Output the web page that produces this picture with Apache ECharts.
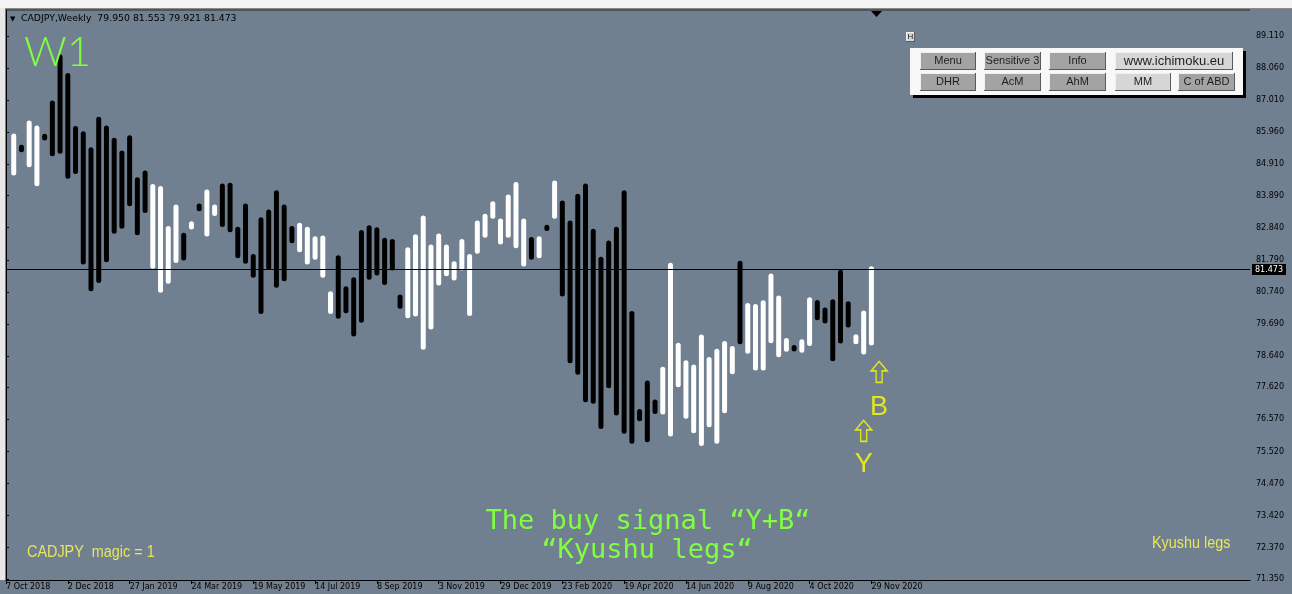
<!DOCTYPE html>
<html>
<head>
<meta charset="utf-8">
<title>CADJPY Weekly - Kyushu legs</title>
<script src="https://cdn.jsdelivr.net/npm/echarts@6/dist/echarts.min.js"></script>
<style>
  html, body { margin: 0; padding: 0; background: #708090; }
  #chart { width: 1292px; height: 594px; }
</style>
</head>
<body>
<div id="chart"></div>
<script>
// time axis labels, one every 8 weeks (axis slot 0 = 7 Oct 2018)
const weekLabels = ['7 Oct 2018', '2 Dec 2018', '27 Jan 2019', '24 Mar 2019', '19 May 2019',
  '14 Jul 2019', '8 Sep 2019', '3 Nov 2019', '29 Dec 2019', '23 Feb 2020', '19 Apr 2020',
  '14 Jun 2020', '9 Aug 2020', '4 Oct 2020', '29 Nov 2020'];

// weekly bars, first one sits in slot 1 (14 Oct 2018), last one 29 Nov 2020
const highs = [85.84, 85.47, 86.26, 86.10, 85.83, 86.92, 88.42, 87.82, 86.08, 85.91,
  85.39, 86.39, 86.10, 85.70, 85.28, 85.78, 84.41, 84.63, 84.19, 84.12,
  82.81, 83.52, 82.59, 82.97, 83.55, 84.01, 83.52, 84.20, 84.23, 82.79,
  83.55, 81.90, 83.10, 83.35, 83.98, 83.52, 82.81, 82.92, 82.79, 82.48,
  82.50, 80.68, 81.86, 80.84, 81.14, 82.68, 82.84, 82.77, 82.43, 82.39,
  80.57, 82.12, 82.54, 83.16, 82.21, 82.57, 82.21, 81.66, 82.39, 81.90,
  82.99, 83.21, 83.62, 83.06, 83.84, 84.25, 83.06, 82.45, 82.48, 82.85,
  84.30, 83.65, 82.99, 83.87, 84.20, 82.72, 81.81, 82.34, 82.79, 83.98,
  80.03, 76.83, 77.76, 77.14, 78.21, 81.61, 78.99, 78.42, 78.28, 79.26,
  78.53, 78.80, 79.05, 78.89, 81.68, 80.29, 80.26, 80.38, 81.26, 80.54,
  79.15, 78.92, 79.11, 80.48, 80.39, 80.15, 80.42, 81.38, 80.35, 79.27,
  80.05, 81.50];
const lows = [84.63, 85.39, 84.90, 84.28, 85.77, 85.26, 85.34, 84.52, 84.68, 81.72,
  80.84, 81.11, 81.79, 82.72, 82.89, 83.62, 82.67, 83.40, 81.58, 80.79,
  81.09, 81.77, 81.85, 82.86, 83.46, 82.63, 83.30, 82.94, 82.77, 81.92,
  81.74, 81.28, 80.10, 81.54, 80.96, 81.17, 82.41, 82.12, 81.72, 81.87,
  81.28, 80.10, 79.94, 80.12, 79.36, 79.81, 81.22, 81.36, 81.05, 81.52,
  80.27, 79.96, 80.02, 78.93, 79.59, 81.03, 81.33, 81.19, 81.52, 80.03,
  82.07, 82.59, 83.21, 82.37, 82.59, 82.25, 81.65, 81.87, 81.92, 82.81,
  83.21, 80.67, 78.49, 78.11, 77.21, 77.16, 76.34, 77.67, 76.78, 76.18,
  75.85, 76.59, 75.90, 76.83, 76.81, 76.09, 77.70, 76.67, 76.20, 75.78,
  76.39, 75.85, 76.85, 78.13, 79.11, 78.80, 78.25, 78.25, 79.14, 78.68,
  78.86, 78.87, 78.83, 79.05, 79.89, 79.79, 78.55, 79.13, 79.66, 79.11,
  78.77, 79.07];
// 1 = up week (white), -1 = down week (black)
const dirs = [1, -1, 1, 1, -1, -1, -1, -1, -1, -1,
  -1, -1, -1, -1, -1, -1, -1, -1, 1, 1,
  1, 1, -1, 1, -1, 1, 1, -1, -1, -1,
  -1, -1, -1, -1, -1, -1, -1, 1, 1, 1,
  1, 1, -1, -1, -1, -1, -1, -1, -1, -1,
  -1, 1, 1, 1, 1, 1, 1, 1, 1, 1,
  1, 1, 1, 1, 1, 1, 1, -1, 1, -1,
  1, -1, -1, -1, -1, -1, -1, -1, -1, -1,
  -1, -1, -1, -1, 1, 1, 1, 1, 1, 1,
  1, 1, 1, 1, -1, 1, 1, 1, 1, 1,
  1, -1, 1, 1, -1, -1, -1, -1, -1, 1,
  1, 1];

const priceTicks = [71.35, 72.37, 73.42, 74.47, 75.52, 76.57, 77.62, 78.64, 79.69,
  80.74, 81.79, 82.84, 83.89, 84.91, 85.96, 87.01, 88.06, 89.11];
const lastPrice = 81.473;
const headerText = 'CADJPY,Weekly  79.950 81.553 79.921 81.473';

// Y / B signal arrows: slot, arrow level, letter level
const signalNames = ['Y', 'B'];
const signalSlots = [111, 113];
const signalArrowLevels = [76.19, 78.12];
const signalLetterLevels = [75.08, 76.94];

const chart = echarts.init(document.getElementById('chart'));

const barData = highs.map((h, i) => [i + 1, h, lows[i], dirs[i]]);
const labelSlots = weekLabels.map((_, i) => i * 8);

// MT4 style panel button
function button(x, y, w, h, text, light, size) {
  return {
    type: 'group', x: x, y: y,
    children: [
      {type: 'rect', z: 100, shape: {x: 0, y: 0, width: w, height: h}, style: {fill: '#5a5a5a'}},
      {type: 'rect', z: 101, shape: {x: 0, y: 0, width: w - 1, height: h - 1}, style: {fill: '#f0f0f0'}},
      {type: 'rect', z: 102, shape: {x: 1, y: 1, width: w - 2, height: h - 2}, style: {fill: light ? '#d6d6d6' : '#a3a3a3'}},
      {
        type: 'text', z: 103, x: w / 2, y: h / 2,
        style: {
          text: text, fill: '#1e1e1e', font: size + 'px "Liberation Sans"',
          align: 'center', verticalAlign: 'middle', textAlign: 'center', textVerticalAlign: 'middle'
        }
      }
    ]
  };
}

function note(x, y, text, color, font, scaleX, center) {
  return {
    type: 'text', x: x, y: y, z: 90, scaleX: scaleX || 1,
    style: {
      text: text, fill: color, font: font,
      align: center ? 'center' : 'left', textAlign: center ? 'center' : 'left',
      verticalAlign: 'middle', textVerticalAlign: 'middle'
    }
  };
}

const option = {
  backgroundColor: '#708090',
  animation: false,
  grid: {left: 6, right: 42, top: 10, bottom: 14},
  xAxis: {
    type: 'value', min: 0, max: 161, interval: 8,
    axisLine: {show: true, lineStyle: {color: '#000', width: 1}},
    axisTick: {show: true, customValues: labelSlots, length: 4, lineStyle: {color: '#000'}},
    axisLabel: {
      customValues: labelSlots, align: 'left', margin: 3, fontSize: 8,
      fontFamily: 'DejaVu Sans', color: '#000',
      formatter: v => weekLabels[Math.round(v / 8)] || ''
    },
    splitLine: {show: false}
  },
  yAxis: {
    type: 'value', position: 'right', min: 71.315, max: 89.96,
    axisLine: {show: true, lineStyle: {color: '#000', width: 1}},
    axisTick: {show: true, customValues: priceTicks, length: 3, lineStyle: {color: '#000'}},
    axisLabel: {
      customValues: priceTicks, margin: 6, fontSize: 8, fontFamily: 'DejaVu Sans', color: '#000',
      formatter: v => v.toFixed(3)
    },
    splitLine: {show: false}
  },
  series: [
    {
      type: 'custom',
      name: 'CADJPY',
      data: barData,
      clip: true,
      renderItem: (params, api) => {
        const top = api.coord([api.value(0), api.value(1)]);
        const bot = api.coord([api.value(0), api.value(2)]);
        return {
          type: 'line',
          shape: {x1: top[0], y1: top[1], x2: bot[0], y2: bot[1]},
          style: {stroke: api.value(3) > 0 ? '#ffffff' : '#000000', lineWidth: 5, lineCap: 'round'}
        };
      },
      markLine: {
        silent: true,
        symbol: 'none',
        lineStyle: {color: '#000', width: 1, type: 'solid'},
        label: {
          show: true, position: 'end', distance: 2,
          formatter: lastPrice.toFixed(3),
          backgroundColor: '#000', color: '#fff', padding: [2, 3, 1, 3],
          fontSize: 8, fontFamily: 'DejaVu Sans'
        },
        data: [{yAxis: lastPrice}]
      }
    },
    {
      type: 'scatter',
      name: 'arrows',
      data: signalSlots.map((s, i) => [s, signalArrowLevels[i]]),
      symbol: 'path://M8,0 L16,9 L11,9 L11,20 L5,20 L5,9 L0,9 Z',
      symbolSize: [16, 21],
      itemStyle: {color: 'rgba(0,0,0,0)', borderColor: '#ffff00', borderWidth: 1.5}
    },
    {
      type: 'scatter',
      name: 'letters',
      data: signalSlots.map((s, i) => [s, signalLetterLevels[i]]),
      symbolSize: 2,
      itemStyle: {color: 'rgba(0,0,0,0)'},
      label: {
        show: true, position: 'inside', color: '#ffff00', fontSize: 27,
        fontFamily: 'Liberation Sans',
        formatter: p => signalNames[p.dataIndex]
      }
    }
  ],
  graphic: [
    // window frame at the top
    {type: 'rect', shape: {x: 0, y: 0, width: 1292, height: 8}, style: {fill: '#f4f4f4'}, z: 90},
    {type: 'line', shape: {x1: 0, y1: 8.5, x2: 1292, y2: 8.5}, style: {stroke: '#8a8a8a', lineWidth: 1}, z: 90},
    {type: 'line', shape: {x1: 6, y1: 10, x2: 1250, y2: 10}, style: {stroke: '#2a2a2a', lineWidth: 1}, z: 90},
    {type: 'rect', shape: {x: 0, y: 8, width: 5, height: 572}, style: {fill: '#e8e8e8'}, z: 90},
    // chart shift marker
    {type: 'polygon', shape: {points: [[871, 11], [882, 11], [876.5, 17]]}, style: {fill: '#000'}, z: 90},
    // header
    note(10, 19, '\u25BC', '#000', '7px "DejaVu Sans"'),
    note(21, 19, headerText, '#000', '9.5px "DejaVu Sans"', 0.98),
    // timeframe
    note(24, 52, 'W1', '#80ff40', '300 42px Lato'),
    // comments
    note(648, 522, 'The buy signal \u201CY+B\u201C', '#80ff40', '27px "DejaVu Sans Mono"', 1, true),
    note(647, 551, '\u201CKyushu legs\u201C', '#80ff40', '27px "DejaVu Sans Mono"', 1, true),
    note(27, 553, 'CADJPY  magic = 1', '#e6e65a', '16px "Liberation Sans"', 0.9),
    note(1152, 544, 'Kyushu legs', '#e6e65a', '16px "Liberation Sans"', 0.9),
    // button panel
    {type: 'rect', shape: {x: 913, y: 51, width: 333, height: 47}, style: {fill: '#000'}, z: 95},
    {type: 'rect', shape: {x: 910, y: 48, width: 333, height: 47}, style: {fill: '#f8f8f8'}, z: 96},
    button(906, 32, 9, 10, 'H', true, 8),
    button(920, 52, 56, 18, 'Menu', false, 11),
    button(984, 52, 57, 18, 'Sensitive 3', false, 11),
    button(1049, 52, 57, 18, 'Info', false, 11),
    button(1115, 52, 118, 18, 'www.ichimoku.eu', true, 13),
    button(920, 73, 56, 18, 'DHR', false, 11),
    button(984, 73, 57, 18, 'AcM', false, 11),
    button(1049, 73, 57, 18, 'AhM', false, 11),
    button(1115, 73, 56, 18, 'MM', true, 11),
    button(1178, 73, 57, 18, 'C of ABD', false, 11)
  ]
};

chart.setOption(option);
</script>
</body>
</html>
